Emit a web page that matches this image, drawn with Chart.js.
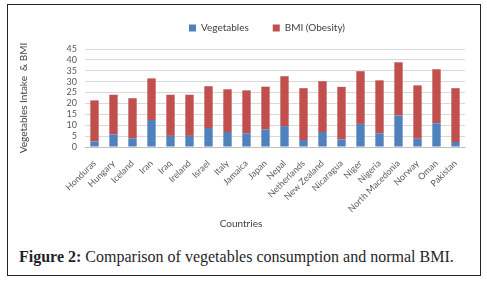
<!DOCTYPE html>
<html lang="en">
<head>
  <meta charset="UTF-8">
  <title>Vegetables and BMI</title>
  <script src="https://cdn.jsdelivr.net/npm/chart.js"></script>
  <style>
    body { margin: 0; background: #fff; overflow: hidden; }
    #frame { position: absolute; left: 7px; top: 4px; width: 474px; height: 272px; border: 1.5px solid #222; box-sizing: border-box; }
    #wrap { position: absolute; left: 9px; top: 6px; }
    #xTitle { position: absolute; left: 191px; top: 217px; width: 100px; text-align: center; font: 10px Lato, sans-serif; color: #404040; }
    #caption { position: absolute; left: 19px; top: 248px; font-family: "Liberation Serif", serif; font-size: 16px; color: #1f1f2a; white-space: nowrap; }
  </style>
</head>
<body>
  <div id="frame"></div>
  <div id="wrap">
    <canvas id="vegChart" width="468" height="228"></canvas>
  </div>
  <div id="xTitle">Countries</div>
  <div id="caption"><b>Figure 2:</b> Comparison of vegetables consumption and normal BMI.</div>

  <script>
    // Countries on the x axis
    const countries = ['Honduras', 'Hungary', 'Iceland', 'Iran', 'Iraq', 'Ireland', 'Israel', 'Italy', 'Jamaica',
      'Japan', 'Nepal', 'Netherlands', 'New Zealand', 'Nicaragua', 'Niger', 'Nigeria', 'North Macedonia',
      'Norway', 'Oman', 'Pakistan'];

    // Vegetables intake (blue, bottom of stack)
    const vegetables = [2.6, 5.8, 4.0, 12.4, 5.1, 5.1, 8.7, 6.9, 6.3,
      8.0, 9.6, 3.2, 6.9, 3.5, 10.6, 6.3, 14.5, 3.8, 10.9, 2.3];

    // BMI (obesity), stacked on top
    const bmi = [18.8, 18.2, 18.4, 19.1, 18.9, 18.9, 19.2, 19.6, 19.7,
      19.7, 22.9, 23.8, 23.3, 24.1, 24.2, 24.3, 24.4, 24.5, 24.8, 24.7];

    const yTicks = [0, 5, 10, 15, 20, 25, 30, 35, 40, 45];

    // legend sits a bit right of centre and closer to the top than chart.js puts it
    const legendPlace = {
      id: 'legendPlace',
      beforeInit(chart) {
        const fit = chart.legend.fit;
        chart.legend.fit = function () {
          fit.call(this);
          this.height = 43;
        };
      },
      afterLayout(chart) {
        const lg = chart.legend;
        lg.top -= 7; lg.bottom -= 7;
        lg.left += 30; lg.right += 30;
      }
    };

    const ctx = document.getElementById('vegChart').getContext('2d');
    Chart.defaults.font.family = 'Lato, "Noto Sans", sans-serif';
    Chart.defaults.color = '#595959';

    const vegChart = new Chart(ctx, {
      type: 'bar',
      data: {
        labels: countries,
        datasets: [{
          label: 'Vegetables',
          data: vegetables,
          backgroundColor: '#4F81BD',
          categoryPercentage: 0.88,
          barPercentage: 0.5
        }, {
          label: 'BMI (Obesity)',
          data: bmi,
          backgroundColor: '#C0504D',
          categoryPercentage: 0.88,
          barPercentage: 0.5
        }]
      },
      options: {
        responsive: false,
        animation: false,
        layout: { padding: { left: 0, right: 12, top: 0, bottom: 0 } },
        plugins: {
          tooltip: { enabled: false },
          legend: {
            position: 'top',
            labels: { boxWidth: 7, boxHeight: 7, padding: 24, font: { size: 10 }, color: '#404040' }
          }
        },
        scales: {
          x: {
            stacked: true,
            grid: { display: false },
            border: { color: '#bfbfbf' },
            ticks: { maxRotation: 45, minRotation: 45, autoSkip: false, font: { size: 9 }, padding: 3 },
            afterFit: (axis) => { axis.height = 87; }
          },
          y: {
            stacked: true,
            min: 0,
            max: 45,
            afterBuildTicks: (axis) => { axis.ticks = yTicks.map(v => ({ value: v })); },
            grid: { color: '#d9d9d9', drawTicks: false },
            border: { display: false },
            ticks: { autoSkip: false, font: { size: 9 }, padding: 8 },
            title: { display: true, text: 'Vegetables Intake  & BMI', font: { size: 10 }, color: '#404040', padding: { top: 9, bottom: 0 } },
            afterFit: (axis) => { axis.width = 76; }
          }
        }
      },
      plugins: [legendPlace]
    });
  </script>
</body>
</html>
